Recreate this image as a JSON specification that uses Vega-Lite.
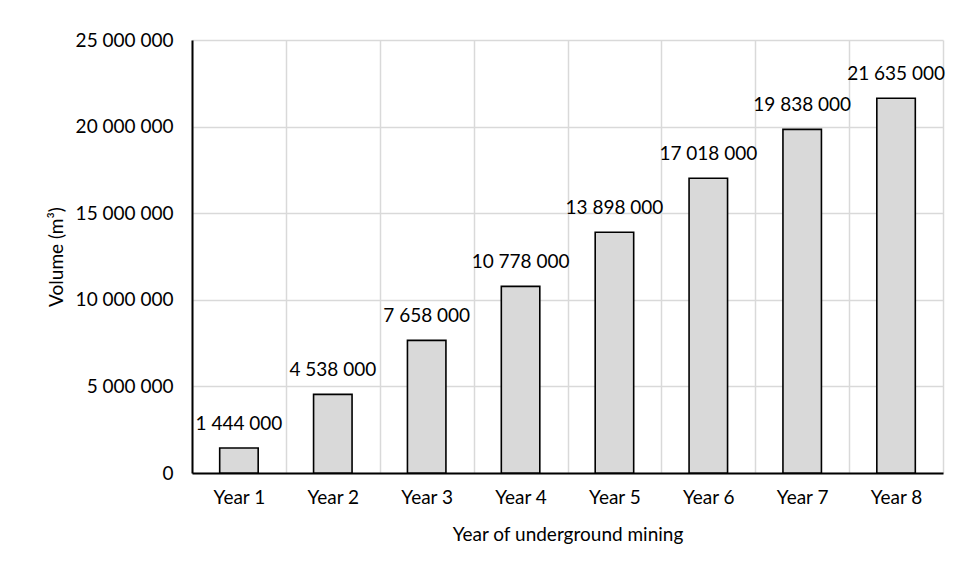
{
  "$schema": "https://vega.github.io/schema/vega-lite/v6.json",
  "autosize": {"type": "none"},
  "width": 751,
  "height": 433,
  "padding": {"left": 192, "top": 40, "right": 20, "bottom": 103},
  "background": "white",
  "data": {
    "values": [
      {"year": "Year 1", "volume": 1444000},
      {"year": "Year 2", "volume": 4538000},
      {"year": "Year 3", "volume": 7658000},
      {"year": "Year 4", "volume": 10778000},
      {"year": "Year 5", "volume": 13898000},
      {"year": "Year 6", "volume": 17018000},
      {"year": "Year 7", "volume": 19838000},
      {"year": "Year 8", "volume": 21635000}
    ]
  },
  "encoding": {
    "x": {
      "field": "year",
      "type": "nominal",
      "sort": null,
      "scale": {"paddingInner": 0, "paddingOuter": 0},
      "axis": {
        "title": "Year of underground mining",
        "labelAngle": 0,
        "ticks": false,
        "grid": true,
        "tickBand": "extent",
        "gridColor": "#d9d9d9",
        "gridWidth": 1.5,
        "domainColor": "black",
        "domainWidth": 2,
        "labelPadding": 15,
        "titlePadding": 18
      }
    },
    "y": {
      "field": "volume",
      "type": "quantitative",
      "scale": {"domain": [0, 25000000]},
      "axis": {
        "title": "Volume (m³)",
        "values": [0, 5000000, 10000000, 15000000, 20000000, 25000000],
        "format": ",d",
        "ticks": false,
        "grid": true,
        "gridColor": "#d9d9d9",
        "gridWidth": 1.5,
        "domainColor": "black",
        "domainWidth": 2,
        "labelPadding": 19,
        "titlePadding": 9
      }
    }
  },
  "layer": [
    {
      "mark": {
        "type": "bar",
        "width": {"band": 0.41},
        "fill": "#d9d9d9",
        "stroke": "black",
        "strokeWidth": 1.6
      }
    },
    {
      "mark": {
        "type": "text",
        "baseline": "alphabetic",
        "dy": -18,
        "font": "Lato",
        "fontSize": 19,
        "color": "black"
      },
      "encoding": {
        "text": {"field": "volume", "type": "quantitative", "format": ",d"}
      }
    }
  ],
  "config": {
    "locale": {
      "number": {"decimal": ".", "thousands": " ", "grouping": [3], "currency": ["", ""]}
    },
    "view": {"stroke": null},
    "axis": {
      "labelFont": "Lato",
      "labelFontSize": 19,
      "labelColor": "black",
      "titleFont": "Lato",
      "titleFontSize": 19,
      "titleFontWeight": "normal",
      "titleColor": "black"
    }
  }
}
